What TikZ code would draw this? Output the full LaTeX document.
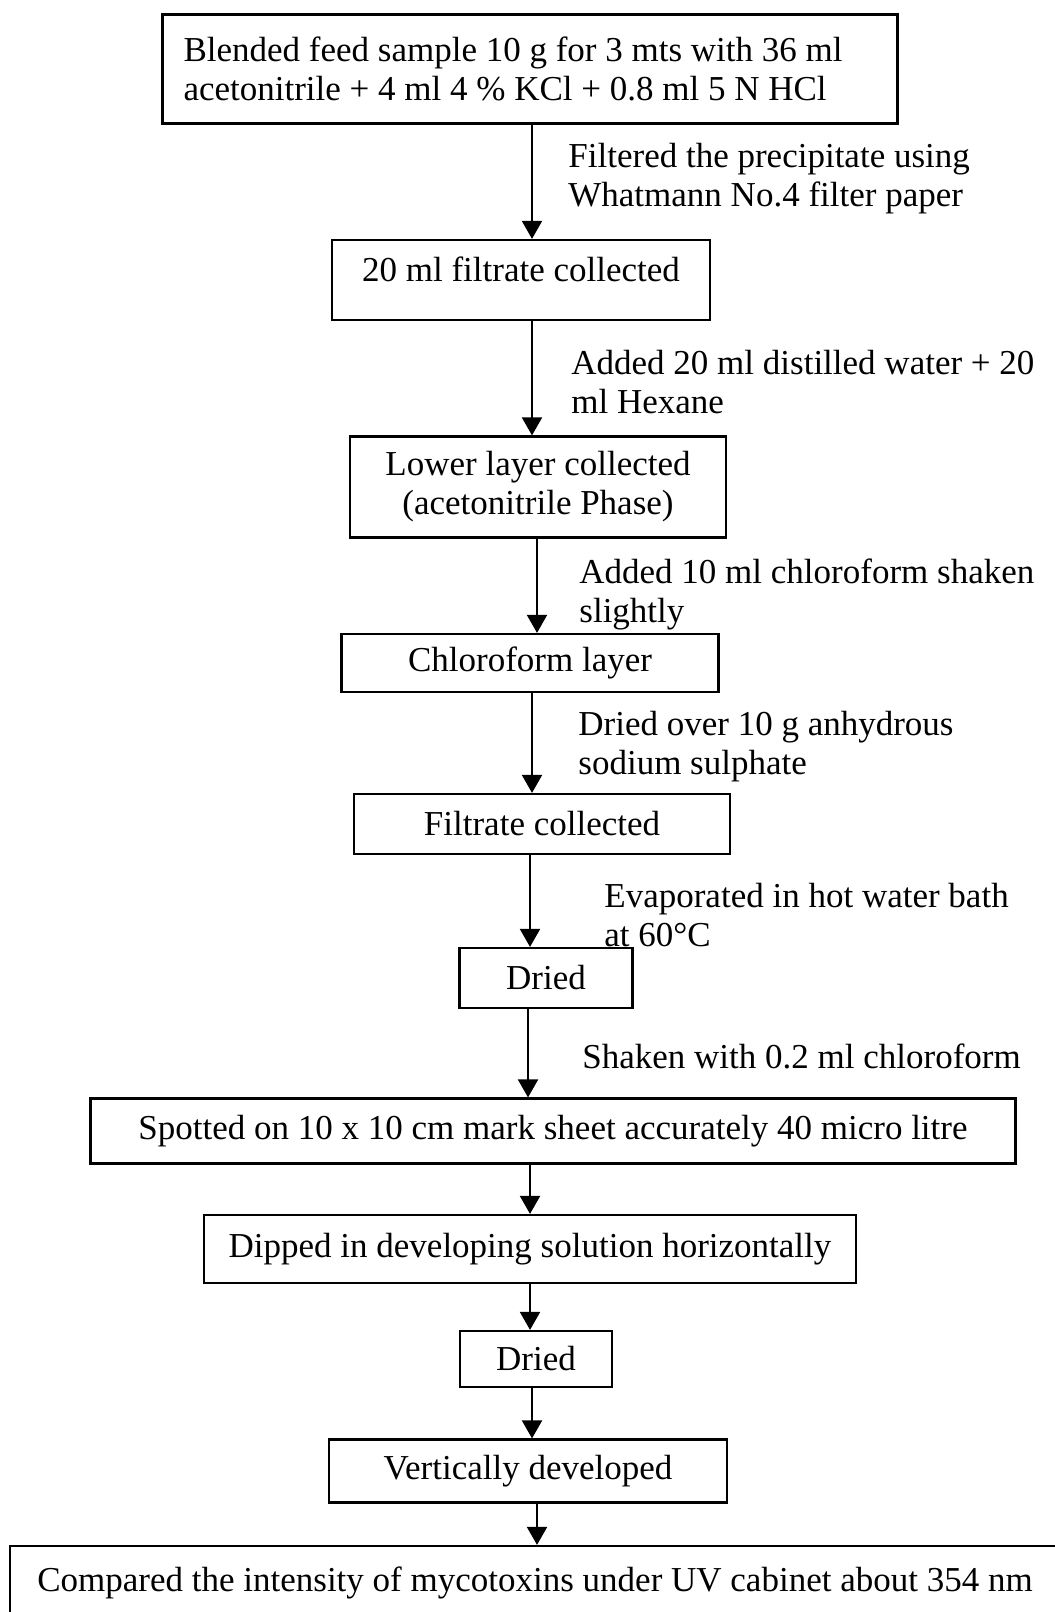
\documentclass[tikz,border=0pt]{standalone}
\usepackage{fontspec}
\setmainfont{Liberation Serif}
\usetikzlibrary{arrows.meta}
\tikzset{
  box/.style={draw,line width=1.1pt,inner sep=0pt,align=center,font=\fontsize{17.5}{19.5}\selectfont},
  lbl/.style={anchor=west,align=left,inner sep=0pt,font=\fontsize{17.5}{19.5}\selectfont},
  arr/.style={line width=1pt,-{Triangle[length=9pt,width=10pt]}}
}
\begin{document}
\begin{tikzpicture}[x=0.5pt,y=-0.5pt]
\useasboundingbox (0,0) rectangle (1055,1612);
\clip (0,0) rectangle (1055,1612);
\node[box,minimum width=367.5pt,minimum height=54.5pt,text width=346.5pt,align=flush left] (b1) at (530,69) {Blended feed sample 10 g for 3 mts with 36 ml\\acetonitrile + 4 ml 4 \% KCl + 0.8 ml 5 N HCl};
\node[box,minimum width=189pt,minimum height=40pt] (b2) at (521,280) {\raisebox{11pt}{20 ml filtrate collected}};
\node[box,minimum width=188pt,minimum height=50.5pt] (b3) at (538,487) {Lower layer collected\\(acetonitrile Phase)};
\node[box,minimum width=188.5pt,minimum height=29pt] (b4) at (530,663) {Chloroform layer};
\node[box,minimum width=188pt,minimum height=30pt] (b5) at (542,824) {Filtrate collected};
\node[box,minimum width=86.5pt,minimum height=30pt] (b6) at (546,978) {Dried};
\node[box,minimum width=462.5pt,minimum height=32.5pt] (b7) at (553,1131) {Spotted on 10 x 10 cm mark sheet accurately 40 micro litre};
\node[box,minimum width=326pt,minimum height=34pt] (b8) at (530,1249) {Dipped in developing solution horizontally};
\node[box,minimum width=76pt,minimum height=28pt] (b9) at (536,1359) {Dried};
\node[box,minimum width=199pt,minimum height=31.5pt] (b10) at (528,1471) {Vertically developed};
\node[box,minimum width=525pt,minimum height=37pt] (b11) at (535,1583) {Compared the intensity of mycotoxins under UV cabinet about 354 nm};
\node[lbl] (l1) at (568,179) {Filtered the precipitate using\\Whatmann No.4 filter paper};
\node[lbl] (l2) at (571,382) {Added 20 ml distilled water + 20\\ml Hexane};
\node[lbl] (l3) at (579,594) {Added 10 ml chloroform shaken\\slightly};
\node[lbl] (l4) at (578,747) {Dried over 10 g anhydrous\\sodium sulphate};
\node[lbl] (l5) at (604,915) {Evaporated in hot water bath\\at 60°C};
\node[lbl] (l6) at (582,1056) {Shaken with 0.2 ml chloroform};
\draw[arr] (532,0 |- b1.south) -- (532,0 |- b2.north);
\draw[arr] (532,0 |- b2.south) -- (532,0 |- b3.north);
\draw[arr] (537,0 |- b3.south) -- (537,0 |- b4.north);
\draw[arr] (532,0 |- b4.south) -- (532,0 |- b5.north);
\draw[arr] (530,0 |- b5.south) -- (530,0 |- b6.north);
\draw[arr] (528,0 |- b6.south) -- (528,0 |- b7.north);
\draw[arr] (530,0 |- b7.south) -- (530,0 |- b8.north);
\draw[arr] (530,0 |- b8.south) -- (530,0 |- b9.north);
\draw[arr] (532,0 |- b9.south) -- (532,0 |- b10.north);
\draw[arr] (537,0 |- b10.south) -- (537,0 |- b11.north);
\end{tikzpicture}
\end{document}
